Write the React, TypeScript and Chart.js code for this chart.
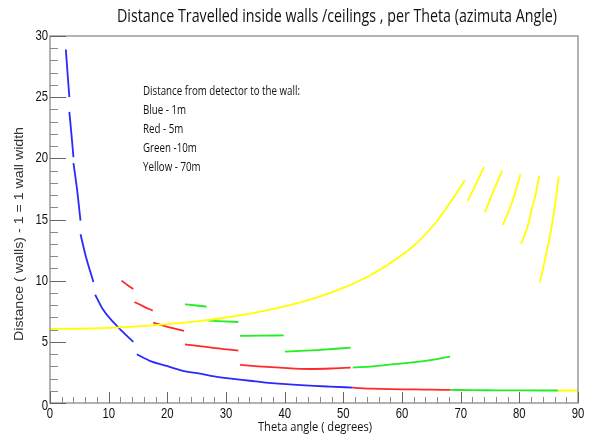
import { useEffect, useRef } from 'react';
import { Chart, registerables } from 'chart.js';

Chart.register(...registerables);

const TITLE = 'Distance Travelled inside walls /ceilings , per Theta (azimuta Angle)';
const X_TITLE = 'Theta angle ( degrees)';
const Y_TITLE = 'Distance ( walls) - 1 = 1 wall width';
const NOTE_LINES = [
  'Distance from detector to the wall:',
  'Blue - 1m',
  'Red - 5m',
  'Green -10m',
  'Yellow - 70m',
];

const X_MIN = 0;
const X_MAX = 90;
const Y_MIN = 0;
const Y_MAX = 30;
const xMajorTicks = [0, 10, 20, 30, 40, 50, 60, 70, 80, 90];
const yMajorTicks = [0, 5, 10, 15, 20, 25, 30];

// null = break between curve pieces
const blueTheta = [2.7, 3.0, 3.3, null, 3.3, 3.65, 4.0, null, 4.0, 4.6, 5.2, null, 5.2, 6.1, 7.4, null, 7.7, 9.1, 11.6, 14.2, null,
  14.8, 17, 19.9, 22.5, 25.6, 28, 31.2, 34.1, 36.4, 39, 42.05, 45, 47.7, 51.6];
const blueDist = [28.9, 26.9, 25.0, null, 23.8, 22.0, 20.1, null, 19.6, 17.5, 14.9, null, 13.8, 12.0, 9.9, null, 8.85, 7.6, 6.2, 5.0, null,
  3.98, 3.45, 3.03, 2.65, 2.4, 2.18, 1.98, 1.82, 1.68, 1.58, 1.48, 1.4, 1.34, 1.26];

const redTheta = [12.2, 13.2, 14.2, null, 14.4, 16.0, 17.5, null, 17.6, 20.2, 22.85, null, 23.0, 27.5, 32.1, null,
  32.4, 35.5, 39.2, 44.3, 48, 51.25, null, 51.6, 55, 58, 62, 65, 68.3];
const redDist = [10.0, 9.65, 9.32, null, 8.26, 7.88, 7.55, null, 6.57, 6.2, 5.89, null, 4.8, 4.52, 4.28, null,
  3.11, 3.0, 2.89, 2.78, 2.82, 2.89, null, 1.25, 1.17, 1.13, 1.11, 1.09, 1.07];

const greenTheta = [23.0, 24.9, 26.7, null, 27.0, 29.5, 32.1, null, 32.4, 36, 39.85, null, 40.05, 45.45, 51.25, null,
  51.6, 55, 59.7, 64, 68.2, null, 68.3, 72, 76, 80, 84, 86.6];
const greenDist = [8.07, 7.97, 7.88, null, 6.73, 6.68, 6.62, null, 5.48, 5.5, 5.53, null, 4.2, 4.33, 4.52, null,
  2.9, 3.0, 3.22, 3.45, 3.79, null, 1.07, 1.05, 1.04, 1.03, 1.02, 1.02];

const yellowTheta = [0, 5, 10, 15, 20, 25, 30, 35, 40, 45, 50, 55, 60, 63, 66, 68.5, 70.7, null,
  71.2, 72.6, 74.0, null, 74.14, 75.56, 77.1, null, 77.2, 78.9, 80.2, null, 80.3, 81.4, 82.1, 82.8, 83.4, null,
  83.5, 84.37, 85.5, 86.36, 86.7, null, 86.6, 88, 90];
const yellowDist = [6.05, 6.07, 6.14, 6.26, 6.44, 6.68, 6.99, 7.39, 7.9, 8.56, 9.41, 10.55, 12.1, 13.3, 14.9, 16.6, 18.2, null,
  16.5, 17.9, 19.3, null, 15.6, 17.3, 19.0, null, 14.55, 16.6, 18.7, null, 13.0, 14.4, 15.8, 17.1, 18.6, null,
  9.87, 11.7, 14.4, 17.15, 18.5, null, 1.02, 1.02, 1.02];

const OPEN = '"Open Sans", "Noto Sans", sans-serif';
const REGULAR = '"Liberation Sans", Arial, sans-serif';

function toPoints(xs: (number | null)[], ys: (number | null)[]) {
  return xs.map((x, i) => (x === null || ys[i] === null ? { x: NaN, y: null } : { x, y: ys[i] }));
}

function drawText(ctx: CanvasRenderingContext2D, text: string, x: number, y: number, font: string, sx: number,
  align: CanvasTextAlign) {
  ctx.save();
  ctx.font = font;
  ctx.textAlign = align;
  ctx.textBaseline = 'middle';
  ctx.translate(x, y);
  ctx.scale(sx, 1);
  ctx.fillText(text, 0, 0);
  ctx.restore();
}

function squeezeFor(ctx: CanvasRenderingContext2D, text: string, font: string, target: number) {
  ctx.save();
  ctx.font = font;
  const w = ctx.measureText(text).width;
  ctx.restore();
  return Math.min(1.2, target / w);
}

const decorPlugin = {
  id: 'rootDecor',
  afterDraw(chart: any) {
    const { ctx, chartArea } = chart;
    const xs = chart.scales.x;
    const ys = chart.scales.y;
    const { left, right, top, bottom } = chartArea;
    ctx.save();
    ctx.strokeStyle = '#9a9a9a';
    ctx.lineWidth = 1.5;
    ctx.strokeRect(left, top, right - left, bottom - top);

    for (let v = Y_MIN; v <= Y_MAX; v += 1) {
      const py = Math.round(ys.getPixelForValue(v)) + 0.5;
      const major = yMajorTicks.includes(v);
      ctx.strokeStyle = major ? '#666' : '#8a8a8a';
      ctx.lineWidth = 1;
      ctx.beginPath();
      ctx.moveTo(left, py);
      ctx.lineTo(left + (major ? 16 : 8), py);
      ctx.stroke();
    }
    for (let v = X_MIN; v <= X_MAX; v += 2) {
      const px = Math.round(xs.getPixelForValue(v)) + 0.5;
      const major = xMajorTicks.includes(v);
      ctx.strokeStyle = major ? '#666' : '#8a8a8a';
      ctx.lineWidth = 1;
      ctx.beginPath();
      ctx.moveTo(px, bottom);
      ctx.lineTo(px, bottom - (major ? 11 : 6));
      ctx.stroke();
    }

    ctx.fillStyle = '#111';
    const tickFont = `14.5px ${REGULAR}`;
    yMajorTicks.forEach((v) => {
      const py = ys.getPixelForValue(v) + (v === 0 ? 3 : 0);
      drawText(ctx, String(v), left - 2, py, tickFont, 0.78, 'right');
    });
    xMajorTicks.forEach((v) => {
      const px = xs.getPixelForValue(v);
      drawText(ctx, String(v), px, bottom + 11, tickFont, 0.78, 'center');
    });

    const titleFont = `18.5px ${OPEN}`;
    drawText(ctx, TITLE, 337, 17, titleFont, squeezeFor(ctx, TITLE, titleFont, 440), 'center');

    const xtFont = `12px ${OPEN}`;
    drawText(ctx, X_TITLE, 315, 428, xtFont, squeezeFor(ctx, X_TITLE, xtFont, 114), 'center');

    ctx.save();
    ctx.translate(20, 234);
    ctx.rotate(-Math.PI / 2);
    ctx.fillStyle = '#333';
    const ytFont = `12.5px ${REGULAR}`;
    drawText(ctx, Y_TITLE, 0, 0, ytFont, squeezeFor(ctx, Y_TITLE, ytFont, 214), 'center');
    ctx.restore();

    const noteFont = `13px ${OPEN}`;
    const sq = squeezeFor(ctx, NOTE_LINES[0], noteFont, 157);
    const noteY = [91, 110, 129, 148, 167];
    NOTE_LINES.forEach((t, i) => drawText(ctx, t, 143, noteY[i], noteFont, sq, 'left'));
    ctx.restore();
  },
};

export default function App() {
  const ref = useRef<HTMLCanvasElement>(null);

  useEffect(() => {
    if (!ref.current) return;
    const ds = (label: string, xs: (number | null)[], ys: (number | null)[], color: string, order: number) => ({
      label,
      data: toPoints(xs, ys),
      borderColor: color,
      backgroundColor: color,
      borderWidth: 1.8,
      pointRadius: 0,
      spanGaps: false,
      cubicInterpolationMode: 'monotone' as const,
      order,
    });
    const chart = new Chart(ref.current, {
      type: 'line',
      data: {
        datasets: [
          ds('Blue - 1m', blueTheta, blueDist, '#2a2aff', 4),
          ds('Red - 5m', redTheta, redDist, '#ff2a2a', 3),
          ds('Green -10m', greenTheta, greenDist, '#22ee22', 2),
          ds('Yellow - 70m', yellowTheta, yellowDist, '#ffff00', 1),
        ],
      },
      options: {
        responsive: false,
        animation: false,
        layout: { padding: { top: 36, right: 12, left: 0, bottom: 0 } },
        plugins: { legend: { display: false }, tooltip: { enabled: false }, title: { display: false } },
        scales: {
          x: {
            type: 'linear',
            min: X_MIN,
            max: X_MAX,
            afterFit: (s: any) => { s.height = 34; },
            ticks: { display: false, stepSize: 10 },
            grid: { display: false, drawTicks: false },
            border: { display: false },
          },
          y: {
            type: 'linear',
            min: Y_MIN,
            max: Y_MAX,
            afterFit: (s: any) => { s.width = 50; },
            ticks: { display: false, stepSize: 5 },
            grid: { display: false, drawTicks: false },
            border: { display: false },
          },
        },
      },
      plugins: [decorPlugin],
    });
    return () => chart.destroy();
  }, []);

  return (
    <div style={{ position: 'fixed', left: 0, top: 0, width: 590, height: 437, background: '#fff' }}>
      <canvas ref={ref} width={590} height={437} style={{ display: 'block' }} />
    </div>
  );
}
